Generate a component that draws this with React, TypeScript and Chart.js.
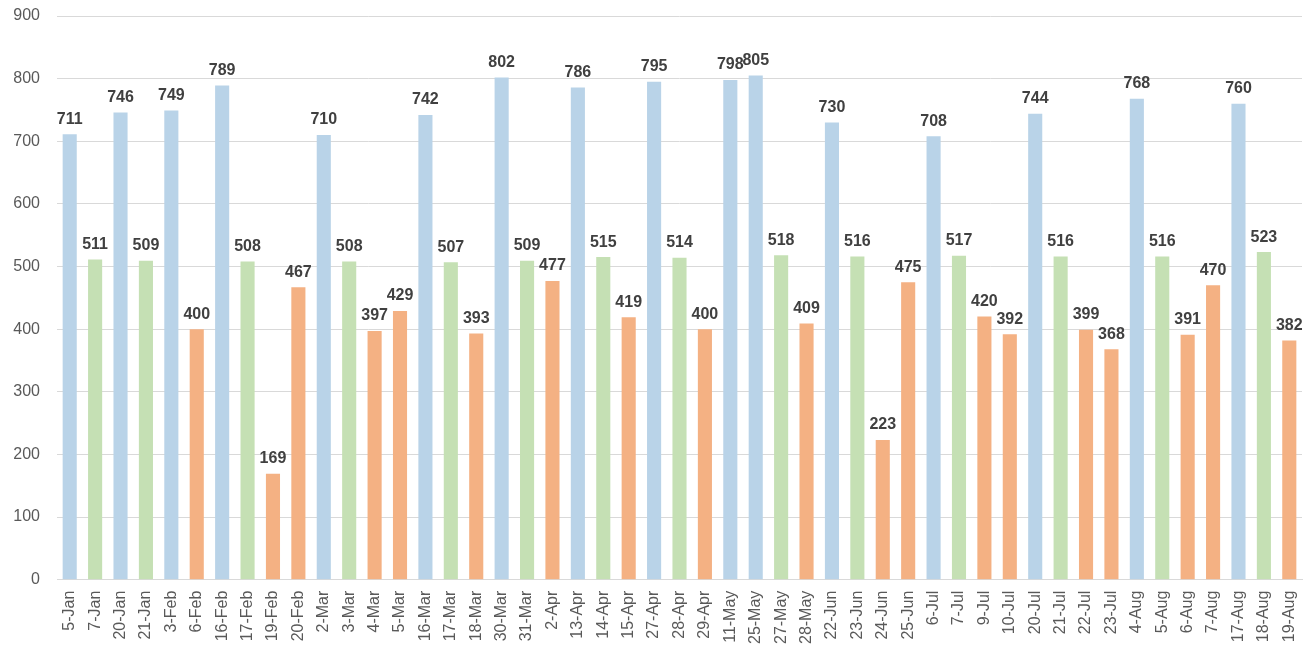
import { useEffect, useRef } from 'react'
import { Chart, registerables, Plugin } from 'chart.js'

Chart.register(...registerables)

// dates as printed on the category axis
const DATES = [
  '5-Jan', '7-Jan', '20-Jan', '21-Jan', '3-Feb', '6-Feb', '16-Feb', '17-Feb', '19-Feb', '20-Feb',
  '2-Mar', '3-Mar', '4-Mar', '5-Mar', '16-Mar', '17-Mar', '18-Mar', '30-Mar', '31-Mar', '2-Apr',
  '13-Apr', '14-Apr', '15-Apr', '27-Apr', '28-Apr', '29-Apr', '11-May', '25-May', '27-May', '28-May',
  '22-Jun', '23-Jun', '24-Jun', '25-Jun', '6-Jul', '7-Jul', '9-Jul', '10-Jul', '20-Jul', '21-Jul',
  '22-Jul', '23-Jul', '4-Aug', '5-Aug', '6-Aug', '7-Aug', '17-Aug', '18-Aug', '19-Aug',
]

const VALUES = [
  711, 511, 746, 509, 749, 400, 789, 508, 169, 467,
  710, 508, 397, 429, 742, 507, 393, 802, 509, 477,
  786, 515, 419, 795, 514, 400, 798, 805, 518, 409,
  730, 516, 223, 475, 708, 517, 420, 392, 744, 516,
  399, 368, 768, 516, 391, 470, 760, 523, 382,
]

// b = blue, g = green, o = orange
const GROUPS = [
  'b', 'g', 'b', 'g', 'b', 'o', 'b', 'g', 'o', 'o',
  'b', 'g', 'o', 'o', 'b', 'g', 'o', 'b', 'g', 'o',
  'b', 'g', 'o', 'b', 'g', 'o', 'b', 'b', 'g', 'o',
  'b', 'g', 'o', 'o', 'b', 'g', 'o', 'o', 'b', 'g',
  'o', 'o', 'b', 'g', 'o', 'o', 'b', 'g', 'o',
]

const Y_TICKS = [0, 100, 200, 300, 400, 500, 600, 700, 800, 900]

const GROUP_COLORS: Record<string, string> = {
  b: '#B9D3E8',
  g: '#C5E0B4',
  o: '#F4B183',
}

const FONT = '"Liberation Sans", Arial, sans-serif'

// value labels above each bar
const valueLabels: Plugin<'bar'> = {
  id: 'valueLabels',
  afterDatasetsDraw(chart) {
    const { ctx } = chart
    const meta = chart.getDatasetMeta(0)
    ctx.save()
    ctx.font = `bold 16px ${FONT}`
    ctx.fillStyle = '#404040'
    ctx.textAlign = 'center'
    ctx.textBaseline = 'bottom'
    meta.data.forEach((bar, i) => {
      ctx.fillText(String(VALUES[i]), bar.x, bar.y - 7)
    })
    ctx.restore()
  },
}

export default function App() {
  const canvasRef = useRef<HTMLCanvasElement>(null)
  const chartRef = useRef<Chart | null>(null)

  useEffect(() => {
    if (!canvasRef.current) return
    chartRef.current?.destroy()

    chartRef.current = new Chart(canvasRef.current, {
      type: 'bar',
      data: {
        labels: DATES,
        datasets: [{
          data: VALUES,
          backgroundColor: GROUPS.map(g => GROUP_COLORS[g]),
          categoryPercentage: 1,
          barPercentage: 0.555,
        }],
      },
      options: {
        animation: false,
        responsive: true,
        maintainAspectRatio: false,
        layout: { padding: { left: 12, right: 2, top: 16, bottom: 6 } },
        plugins: {
          legend: { display: false },
          tooltip: { enabled: false },
        },
        scales: {
          x: {
            grid: { display: false },
            border: { color: '#D9D9D9' },
            afterFit: axis => {
              axis.paddingLeft = 0
              axis.paddingRight = 0
            },
            ticks: {
              color: '#595959',
              font: { family: FONT, size: 16 },
              minRotation: 90,
              maxRotation: 90,
              autoSkip: false,
              padding: 3,
            },
          },
          y: {
            min: 0,
            max: 900,
            afterBuildTicks: axis => { axis.ticks = Y_TICKS.map(v => ({ value: v })) },
            afterFit: axis => {
              axis.width = 45
              axis.paddingTop = 0
              axis.paddingBottom = 0
            },
            grid: { color: '#D9D9D9', drawTicks: false },
            border: { display: false },
            ticks: {
              color: '#595959',
              font: { family: FONT, size: 16 },
              padding: 17,
            },
          },
        },
      },
      plugins: [valueLabels],
    })

    return () => chartRef.current?.destroy()
  }, [])

  return (
    <div style={{ position: 'fixed', left: 0, top: 0, width: '100vw', height: '100vh', background: '#fff' }}>
      <canvas ref={canvasRef} />
    </div>
  )
}
